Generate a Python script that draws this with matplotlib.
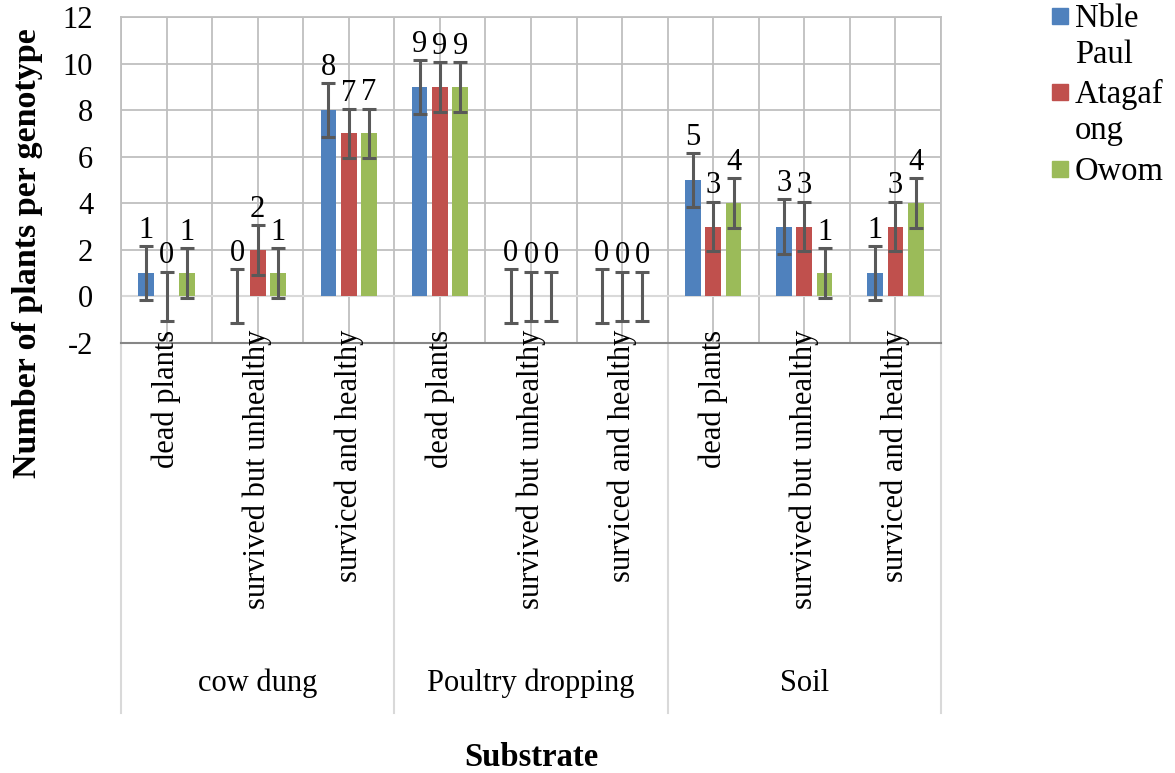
import numpy as np
import matplotlib
matplotlib.use("Agg")
import matplotlib.pyplot as plt
from matplotlib.patches import Rectangle

plt.rcParams["font.family"] = ["Liberation Serif", "DejaVu Serif"]
plt.rcParams["axes.unicode_minus"] = False

FONTSIZE = 22

# data
groups = ["cow dung", "Poultry dropping", "Soil"]
conditions = ["dead plants", "survived but unhealthy", "surviced and healthy"]
series = ["Nble\nPaul", "Atagaf\nong", "Owom"]
colors = ["#4F81BD", "#C0504D", "#9BBB59"]

nble_paul = [1, 0, 8, 9, 0, 0, 5, 3, 1]
atagafong = [0, 2, 7, 9, 0, 0, 3, 3, 3]
owom = [1, 1, 7, 9, 0, 0, 4, 1, 4]

nble_err = [1.17, 1.16, 1.17, 1.16, 1.16, 1.16, 1.16, 1.18, 1.17]
atag_err = [1.07, 1.07, 1.06, 1.08, 1.07, 1.07, 1.07, 1.07, 1.07]
owom_err = [1.08, 1.08, 1.07, 1.08, 1.07, 1.07, 1.07, 1.08, 1.08]

values = [nble_paul, atagafong, owom]
errors = [nble_err, atag_err, owom_err]

n_cat = len(groups) * len(conditions)
x = np.arange(n_cat) + 0.5
pitch = 0.223
width = 0.172

fig = plt.figure(figsize=(11.75, 7.73), dpi=100)
ax = fig.add_axes([121 / 1175, 1 - 343 / 773, 820 / 1175, 326 / 773])

grid_col = "#BFBFBF"
for i in range(3):
	xi = x + (i - 1) * pitch
	ax.bar(xi, values[i], width, color=colors[i], zorder=3)
	ax.errorbar(xi, values[i], yerr=errors[i], fmt="none", ecolor="#595959",
				elinewidth=2.2, capsize=5, capthick=2.2, zorder=4)
	for xx, v, e in zip(xi, values[i], errors[i]):
		ax.text(xx, v + e + 0.05, f"{v}", ha="center", va="bottom",
				fontsize=FONTSIZE, zorder=5)

ax.set_xlim(0, n_cat)
ax.set_ylim(-2, 12)
ax.set_yticks(np.arange(-2, 13, 2))
ax.set_xticks(np.arange(0, n_cat + 0.01, 0.5))
ax.set_xticklabels([])
ax.tick_params(axis="both", length=0, labelsize=FONTSIZE)
ax.tick_params(axis="y", pad=20)
ax.grid(True, color=grid_col, linewidth=1.3, zorder=0)
ax.set_axisbelow(True)
for s in ["left", "right", "top"]:
	ax.spines[s].set_color(grid_col)
	ax.spines[s].set_linewidth(1.3)
ax.spines["bottom"].set_color("#868686")
ax.spines["bottom"].set_linewidth(1.5)
ax.axhline(0, color="#D9D9D9", linewidth=1.5, zorder=1)

# category labels
trans = ax.get_xaxis_transform()
for j, xx in enumerate(x):
	ax.text(xx, 0.04, conditions[j % 3], rotation=90, ha="center", va="top",
			fontsize=FONTSIZE, transform=trans, clip_on=False, zorder=6)

# group labels and separators
for g, name in enumerate(groups):
	ax.text(3 * g + 1.5, -1.043, name, ha="center", va="center",
			fontsize=FONTSIZE, transform=trans, clip_on=False)
for b in range(0, n_cat + 1, 3):
	ax.plot([b, b], [0, -1.135], color="#D9D9D9", linewidth=1.5,
			transform=trans, clip_on=False)

fig.text(531 / 1175, 1 - 757 / 773, "Substrate", ha="center", va="center",
		 fontsize=23.5, fontweight="bold")
fig.text(28 / 1175, 1 - 253 / 773, "Number of plants per genotype", rotation=90,
		 ha="center", va="center", fontsize=24.5, fontweight="bold")

# legend
leg_y = [16, 92, 169]
for i, name in enumerate(series):
	yc = 1 - leg_y[i] / 773
	fig.add_artist(Rectangle((1052 / 1175, yc - 8 / 773), 16 / 1175, 16 / 773,
							 color=colors[i], transform=fig.transFigure))
	for k, line in enumerate(name.split("\n")):
		fig.text(1075 / 1175, 1 - (leg_y[i] + 11 + 36 * k) / 773, line,
				 ha="left", va="baseline", fontsize=23.5)

plt.savefig("out.png")
